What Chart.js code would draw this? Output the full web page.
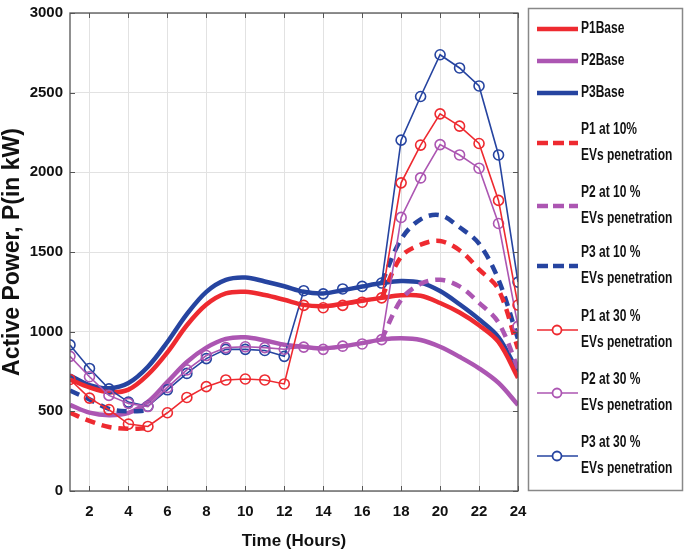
<!DOCTYPE html>
<html>
<head>
<meta charset="utf-8">
<script src="https://cdn.jsdelivr.net/npm/chart.js@4.4.1/dist/chart.umd.min.js"></script>
<style>
  html, body { margin: 0; padding: 0; background: #fff; }
  #wrap { width: 685px; height: 556px; }
</style>
</head>
<body>
<div id="wrap"><canvas id="myChart" width="685" height="556"></canvas></div>
<script>
// hours 1..24
var hours = [1, 2, 3, 4, 5, 6, 7, 8, 9, 10, 11, 12, 13, 14, 15, 16, 17, 18, 19, 20, 21, 22, 23, 24];
var xTicks = [2, 4, 6, 8, 10, 12, 14, 16, 18, 20, 22, 24];
var yTicks = [0, 500, 1000, 1500, 2000, 2500, 3000];

// base load (kW)
var p1Base = [700, 650, 620, 636, 730, 870, 1040, 1170, 1240, 1250, 1230, 1200, 1168, 1160, 1175, 1195, 1212, 1228, 1225, 1180, 1120, 1040, 935, 710];
var p2Base = [540, 492, 476, 490, 560, 685, 810, 900, 955, 965, 945, 918, 905, 895, 908, 928, 950, 958, 948, 905, 842, 770, 678, 540];
var p3Base = [725, 665, 645, 678, 780, 935, 1110, 1250, 1325, 1340, 1315, 1285, 1250, 1240, 1260, 1283, 1305, 1318, 1308, 1255, 1172, 1078, 965, 745];

// 10 % EVs penetration (only the visible parts)
var p1Ev10 = [491, 440, 402, 390, 395, null, null, null, null, null, null, null, null, null, null, null, 1212, 1470, 1546, 1569, 1511, 1391, 1264, 892];
var p2Ev10 = [null, null, null, null, null, null, null, null, null, null, null, null, null, null, null, null, 950, 1200, 1300, 1326, 1284, 1181, 1057, 770];
var p3Ev10 = [630, 575, 515, 500, 505, null, null, null, null, null, null, null, null, null, null, null, 1305, 1580, 1705, 1731, 1655, 1552, 1326, 955];

// 30 % EVs penetration
var p1Ev30 = [700, 583, 511, 420, 405, 491, 587, 655, 697, 703, 697, 672, 1165, 1150, 1165, 1185, 1212, 1934, 2171, 2367, 2290, 2181, 1824, 1167];
var p2Ev30 = [845, 717, 600, 550, 530, 650, 760, 850, 900, 905, 900, 890, 903, 889, 909, 923, 950, 1717, 1965, 2174, 2109, 2026, 1679, 1033];
var p3Ev30 = [917, 769, 641, 558, 532, 635, 738, 831, 889, 889, 882, 845, 1257, 1237, 1268, 1284, 1305, 2202, 2476, 2738, 2655, 2542, 2109, 1311];

var red = 'rgb(238,42,48)';
var purple = 'rgb(172,86,178)';
var blue = 'rgb(38,68,160)';
var sans = "'Liberation Sans', Arial, sans-serif";

function pts(arr) {
    return arr.map(function (v, i) { return { x: hours[i], y: v }; });
}
function baseSet(label, arr, color) {
    return { label: label, data: pts(arr), borderColor: color, borderWidth: 4.5, pointRadius: 0,
             tension: 0.35, order: 3, kind: 'solid' };
}
function dashSet(label, arr, color) {
    return { label: label, data: pts(arr), borderColor: color, borderWidth: 4.5, pointRadius: 0,
             borderDash: [10, 7], tension: 0.35, spanGaps: false, order: 2, kind: 'dash' };
}
function circSet(label, arr, color) {
    return { label: label, data: pts(arr), borderColor: color, borderWidth: 1.6, pointRadius: 5,
             pointBorderWidth: 1.6, pointBackgroundColor: 'rgba(255,255,255,0)', pointBorderColor: color,
             tension: 0, order: 1, kind: 'circle' };
}

// 自訂圖例與外框
var framePlugin = {
    id: 'frame',
    afterDraw: function (chart) {
        var c = chart.ctx, a = chart.chartArea;
        var xs = chart.scales.x, ys = chart.scales.y;
        c.save();
        // 內側刻度
        c.strokeStyle = '#555';
        c.lineWidth = 1;
        xTicks.forEach(function (t) {
            var px = Math.round(xs.getPixelForValue(t)) + 0.5;
            c.beginPath();
            c.moveTo(px, a.bottom); c.lineTo(px, a.bottom - 5);
            c.moveTo(px, a.top); c.lineTo(px, a.top + 5);
            c.stroke();
        });
        yTicks.forEach(function (t) {
            var py = Math.round(ys.getPixelForValue(t)) + 0.5;
            c.beginPath();
            c.moveTo(a.left, py); c.lineTo(a.left + 5, py);
            c.moveTo(a.right, py); c.lineTo(a.right - 5, py);
            c.stroke();
        });
        // 外框
        c.strokeStyle = '#555';
        c.lineWidth = 1.3;
        c.strokeRect(a.left, a.top, a.right - a.left, a.bottom - a.top);

        // 圖例
        var lx = 528.5, ly = 8.5, lw = 154, lh = 482;
        c.fillStyle = '#fff';
        c.fillRect(lx, ly, lw, lh);
        c.strokeStyle = '#888';
        c.lineWidth = 1.5;
        c.strokeRect(lx, ly, lw, lh);
        var rows = [
            { y: 29, lines: ['P1Base'] },
            { y: 61, lines: ['P2Base'] },
            { y: 93, lines: ['P3Base'] },
            { y: 143, lines: ['P1 at 10%', 'EVs penetration'] },
            { y: 206, lines: ['P2 at 10 %', 'EVs penetration'] },
            { y: 266, lines: ['P3 at 10 %', 'EVs penetration'] },
            { y: 330, lines: ['P1 at 30 %', 'EVs penetration'] },
            { y: 393, lines: ['P2 at 30 %', 'EVs penetration'] },
            { y: 456, lines: ['P3 at 30 %', 'EVs penetration'] }
        ];
        c.font = 'bold 16px ' + sans;
        c.textBaseline = 'middle';
        c.textAlign = 'left';
        function txt(s, x, y) {
            c.save();
            c.translate(x, y);
            c.scale(0.75, 1);
            c.fillText(s, 0, 0);
            c.restore();
        }
        chart.data.datasets.forEach(function (ds, i) {
            var r = rows[i];
            c.strokeStyle = ds.borderColor;
            c.lineWidth = ds.borderWidth;
            c.setLineDash(ds.kind === 'dash' ? [11, 5] : []);
            c.beginPath();
            c.moveTo(537, r.y); c.lineTo(578, r.y);
            c.stroke();
            c.setLineDash([]);
            if (ds.kind === 'circle') {
                c.fillStyle = '#fff';
                c.lineWidth = 1.8;
                c.beginPath();
                c.arc(557, r.y, 4.5, 0, Math.PI * 2);
                c.fill();
                c.stroke();
            }
            c.fillStyle = '#111';
            if (r.lines.length === 1) {
                txt(r.lines[0], 581, r.y);
            } else {
                txt(r.lines[0], 581, r.y - 13);
                txt(r.lines[1], 581, r.y + 13);
            }
        });
        c.restore();
    }
};

var ctx = document.getElementById('myChart').getContext('2d');
var chart = new Chart(ctx, {
    type: 'line',
    data: {
        datasets: [
            baseSet('P1Base', p1Base, red),
            baseSet('P2Base', p2Base, purple),
            baseSet('P3Base', p3Base, blue),
            dashSet('P1 at 10% EVs penetration', p1Ev10, red),
            dashSet('P2 at 10 % EVs penetration', p2Ev10, purple),
            dashSet('P3 at 10 % EVs penetration', p3Ev10, blue),
            circSet('P1 at 30 % EVs penetration', p1Ev30, red),
            circSet('P2 at 30 % EVs penetration', p2Ev30, purple),
            circSet('P3 at 30 % EVs penetration', p3Ev30, blue)
        ]
    },
    options: {
        responsive: false,
        animation: false,
        layout: { padding: { top: 0, right: 167, bottom: 0, left: 0 } },
        plugins: { legend: { display: false }, tooltip: { enabled: false } },
        scales: {
            x: {
                type: 'linear',
                min: 1,
                max: 24,
                afterBuildTicks: function (s) { s.ticks = xTicks.map(function (v) { return { value: v }; }); },
                afterFit: function (s) { s.height = 65; },
                grid: { color: 'rgb(226,226,226)', drawTicks: false },
                border: { display: false },
                ticks: { color: '#111', padding: 12, maxRotation: 0, autoSkip: false,
                         callback: function (v) { return String(v); },
                         font: { family: sans, size: 15, weight: 'bold' } },
                title: { display: true, text: 'Time (Hours)', color: '#111', padding: { top: 4, bottom: 4 },
                         font: { family: sans, size: 17, weight: 'bold' } }
            },
            y: {
                min: 0,
                max: 3000,
                afterBuildTicks: function (s) { s.ticks = yTicks.map(function (v) { return { value: v }; }); },
                afterFit: function (s) { s.width = 70; },
                grid: { color: 'rgb(226,226,226)', drawTicks: false },
                border: { display: false },
                ticks: { color: '#111', padding: 7,
                         callback: function (v) { return String(v); },
                         font: { family: sans, size: 15, weight: 'bold', lineHeight: 0.8 } },
                title: { display: true, text: 'Active Power, P(in kW)', color: '#111', padding: { top: 0, bottom: 2 },
                         font: { family: sans, size: 23, weight: 'bold', lineHeight: 1.1 } }
            }
        }
    },
    plugins: [framePlugin]
});
</script>
</body>
</html>
